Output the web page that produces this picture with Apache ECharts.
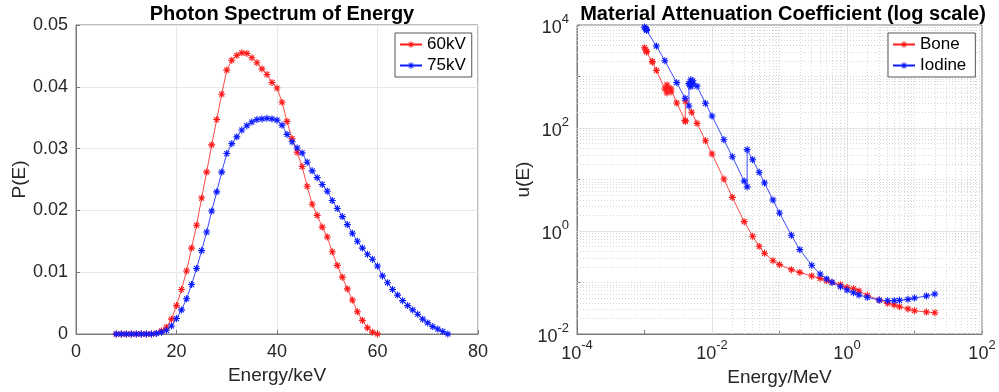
<!DOCTYPE html>
<html>
<head>
<meta charset="utf-8">
<script src="https://cdn.jsdelivr.net/npm/echarts@6/dist/echarts.min.js"></script>
<style>
html,body{margin:0;padding:0;background:#fff;}
#c{width:999px;height:392px;}
</style>
</head>
<body>
<div id="c"></div>
<script>
// ---------- Data: Photon spectrum ----------
const spec60E = [8,9,10,11,12,13,14,15,16,17,18,19,20,21,22,23,24,25,26,27,28,29,30,31,32,33,34,35,36,37,38,39,40,41,42,43,44,45,46,47,48,49,50,51,52,53,54,55,56,57,58,59,60];
const spec60P = [0,0,0,0,0,0,0,0,0.0001,0.0005,0.0011,0.0024,0.0046,0.0072,0.0102,0.0139,0.0176,0.0220,0.0262,0.0306,0.0347,0.0388,0.0427,0.0443,0.0451,0.0455,0.0454,0.0447,0.0439,0.0429,0.0420,0.0407,0.0398,0.0375,0.0344,0.0316,0.0294,0.0271,0.0239,0.0210,0.0192,0.0173,0.0157,0.0133,0.0111,0.0092,0.0073,0.0055,0.0036,0.0022,0.0010,0.0003,0.0000];
const spec75E = [8,9,10,11,12,13,14,15,16,17,18,19,20,21,22,23,24,25,26,27,28,29,30,31,32,33,34,35,36,37,38,39,40,41,42,43,44,45,46,47,48,49,50,51,52,53,54,55,56,57,58,59,60,61,62,63,64,65,66,67,68,69,70,71,72,73,74];
const spec75P = [0,0,0,0,0,0,0,0,0.0001,0.0003,0.0006,0.0013,0.0025,0.0039,0.0057,0.0080,0.0106,0.0135,0.0165,0.0199,0.0230,0.0262,0.0292,0.0308,0.0319,0.0330,0.0337,0.0343,0.0347,0.0348,0.0349,0.0348,0.0346,0.0338,0.0323,0.0311,0.0301,0.0293,0.0278,0.0264,0.0253,0.0242,0.0231,0.0216,0.0203,0.0190,0.0177,0.0163,0.0150,0.0139,0.0129,0.0121,0.0110,0.0094,0.0083,0.0072,0.0063,0.0054,0.0046,0.0039,0.0032,0.0024,0.0018,0.0012,0.0008,0.0004,0.0000];

// ---------- Data: attenuation coefficients ----------
const boneE = [0.001,0.0010354,0.0010721,0.0010721,0.001305,0.001305,0.0015,0.002,0.0021455,0.0021455,0.002303,0.002472,0.002472,0.003,0.004,0.0040381,0.0040381,0.005,0.006,0.008,0.01,0.015,0.02,0.03,0.04,0.05,0.06,0.08,0.1,0.15,0.2,0.3,0.4,0.5,0.6,0.8,1,1.25,1.5,2,3,4,5,6,8,10,15,20];
const boneU = [3625,3300,3000,3080,1915,1960,1318,572,479,684,598,500,572,306,139,135,334,202,123,56.6,31.3,10.2,4.5,1.52,0.789,0.505,0.369,0.265,0.222,0.177,0.157,0.134,0.120,0.108,0.101,0.0906,0.0805,0.0758,0.0684,0.0564,0.0457,0.0394,0.0366,0.0339,0.0306,0.0283,0.0267,0.0259];
const iodE = [0.001,0.0010354,0.0010721,0.0010721,0.0015,0.002,0.003,0.004,0.0045571,0.0045571,0.0047023,0.0048521,0.0048521,0.005,0.005188,0.005188,0.006,0.008,0.01,0.015,0.02,0.03,0.0331694,0.0331694,0.04,0.05,0.06,0.08,0.1,0.15,0.2,0.3,0.4,0.5,0.6,0.8,1,1.25,1.5,2,3,4,5,6,8,10,15,20];
const iodU = [9096,8465,7863,8198,3908,2028,759,378,268,736,688,637,863,794,720,827,650,302,171,59.3,27.7,9.3,7.2,38,24.2,13.8,8.56,4.0,2.24,0.826,0.434,0.216,0.146,0.117,0.101,0.0828,0.0714,0.0634,0.0572,0.0516,0.0457,0.0443,0.0443,0.0451,0.0471,0.050,0.0547,0.0598];

// ---------- Tick labels / names ----------
const titles = ['Photon Spectrum of Energy', 'Material Attenuation Coefficient (log scale)'];
const specTicksX = [0,20,40,60,80];
const specTicksY = [0,0.01,0.02,0.03,0.04,0.05];
const legendLeft = ['60kV','75kV'];
const legendRight = ['Bone','Iodine'];

const FONT = 'Liberation Sans, Arial, Helvetica, sans-serif';
const TXT = '#262626';
const AX = '#7a7a7a';
const STAR = 'path://M42 0h16v100h-16zM0 42h100v16h-100zM9 20L20 9L91 80L80 91zM80 9L91 20L20 91L9 80z';

const zip = (a, b) => a.map((v, i) => [v, b[i]]);

function logLabel(v) {
  const e = Math.round(Math.log10(v));
  if (e % 2 !== 0) return '';
  return '{b|10}{s|' + e + '}';
}
const logRich = {
  b: {fontSize: 18, fontFamily: FONT, color: TXT, verticalAlign: 'bottom', lineHeight: 24},
  s: {fontSize: 13, fontFamily: FONT, color: TXT, verticalAlign: 'top', lineHeight: 24}
};

// log grid lines (major solid at labelled decades, dotted minor)
function gridLines(axisKey, kFrom, kTo, majors) {
  const out = [];
  for (let k = kFrom; k <= kTo; k++) {
    const base = Math.pow(10, k);
    if (k !== kFrom) {
      const isMajor = majors.indexOf(k) >= 0;
      out.push({[axisKey]: base, lineStyle: isMajor ? {color: '#e3e3e3', type: 'solid', width: 1} : {color: '#d6d6d6', type: [1, 2], width: 1}});
    }
    if (k < kTo) {
      for (let m = 2; m <= 9; m++) {
        out.push({[axisKey]: m * base, lineStyle: {color: '#d6d6d6', type: [1, 2], width: 1}});
      }
    }
  }
  return out;
}
const vLines = gridLines('xAxis', -4, 2, [-2, 0]);
const hLines = gridLines('yAxis', -2, 4, [0, 2]);

const chart = echarts.init(document.getElementById('c'), null, {renderer: 'canvas'});

const lineSeries = (name, data, color, xi, yi) => ({
  name, type: 'line', data, xAxisIndex: xi, yAxisIndex: yi,
  symbol: STAR, symbolSize: 7, showAllSymbol: true,
  itemStyle: {color},
  lineStyle: {color, width: 0.8},
  emphasis: {disabled: true},
  animation: false, z: 3
});

const option = {
  animation: false,
  backgroundColor: '#fff',
  textStyle: {fontFamily: FONT},
  title: [
    {text: titles[0], left: 277, top: -1, textAlign: 'center', textStyle: {fontSize: 20, fontWeight: 'bold', color: '#000', fontFamily: FONT}},
    {text: titles[1], left: 778, top: -1, textAlign: 'center', textStyle: {fontSize: 20, fontWeight: 'bold', color: '#000', fontFamily: FONT}}
  ],
  grid: [
    {left: 76, top: 25, width: 402, height: 309, show: true, borderColor: AX, borderWidth: 1, backgroundColor: 'transparent'},
    {left: 577, top: 25, width: 405, height: 309, show: true, borderColor: AX, borderWidth: 1, backgroundColor: 'transparent'}
  ],
  legend: [
    {data: legendLeft, left: 395, top: 33, orient: 'vertical', padding: [3, 6, 3, 4], itemGap: 4, itemWidth: 22, itemHeight: 8,
     borderColor: '#555', borderWidth: 1, backgroundColor: '#fff', textStyle: {fontSize: 17, color: '#000', fontFamily: FONT}, selectedMode: false},
    {data: legendRight, left: 888, top: 33, orient: 'vertical', padding: [3, 9, 3, 4], itemGap: 4, itemWidth: 22, itemHeight: 8,
     borderColor: '#555', borderWidth: 1, backgroundColor: '#fff', textStyle: {fontSize: 17, color: '#000', fontFamily: FONT}, selectedMode: false}
  ],
  xAxis: [
    {type: 'value', gridIndex: 0, min: specTicksX[0], max: specTicksX[specTicksX.length - 1], interval: 20,
     name: 'Energy/keV', nameLocation: 'middle', nameGap: 32, nameTextStyle: {fontSize: 19, color: TXT, fontFamily: FONT},
     axisLine: {show: true, lineStyle: {color: AX}}, axisTick: {show: true, inside: true, length: 4, lineStyle: {color: AX}},
     axisLabel: {fontSize: 18, color: TXT, margin: 9, fontFamily: FONT},
     splitLine: {show: true, lineStyle: {color: '#e8e8e8'}}},
    {type: 'log', logBase: 10, gridIndex: 1, min: 1e-4, max: 1e2,
     name: 'Energy/MeV', nameLocation: 'middle', nameGap: 32, nameTextStyle: {fontSize: 19, color: TXT, fontFamily: FONT},
     axisLine: {show: true, lineStyle: {color: AX}}, axisTick: {show: true, inside: true, length: 4, lineStyle: {color: AX}},
     axisLabel: {formatter: logLabel, rich: logRich, margin: 5, showMinLabel: true, showMaxLabel: true},
     splitLine: {show: false}}
  ],
  yAxis: [
    {type: 'value', gridIndex: 0, min: specTicksY[0], max: specTicksY[specTicksY.length - 1], interval: 0.01,
     name: 'P(E)', nameLocation: 'middle', nameGap: 45, nameTextStyle: {fontSize: 19, color: TXT, fontFamily: FONT},
     axisLine: {show: true, lineStyle: {color: AX}}, axisTick: {show: true, inside: true, length: 4, lineStyle: {color: AX}},
     axisLabel: {fontSize: 18, color: TXT, margin: 8, fontFamily: FONT, formatter: v => v === 0 ? '0' : v.toFixed(2)},
     splitLine: {show: true, lineStyle: {color: '#e8e8e8'}}},
    {type: 'log', logBase: 10, gridIndex: 1, min: 1e-2, max: 1e4,
     name: 'u(E)', nameLocation: 'middle', nameGap: 44, nameTextStyle: {fontSize: 19, color: TXT, fontFamily: FONT},
     axisLine: {show: true, lineStyle: {color: AX}}, axisTick: {show: true, inside: true, length: 4, lineStyle: {color: AX}},
     axisLabel: {formatter: logLabel, rich: logRich, margin: 8, showMinLabel: true, showMaxLabel: true},
     splitLine: {show: false}}
  ],
  series: [
    {name: '_grid', type: 'line', xAxisIndex: 1, yAxisIndex: 1, data: zip(boneE, boneU), showSymbol: false, symbol: 'none',
     lineStyle: {opacity: 0}, silent: true, z: 1, animation: false,
     markLine: {silent: true, z: 1, symbol: ['none', 'none'], label: {show: false}, animation: false,
                emphasis: {disabled: true}, data: vLines.concat(hLines)}},
    lineSeries('60kV', zip(spec60E, spec60P), '#ff1a1a', 0, 0),
    lineSeries('75kV', zip(spec75E, spec75P), '#0a1aff', 0, 0),
    lineSeries('Bone', zip(boneE, boneU), '#ff1a1a', 1, 1),
    lineSeries('Iodine', zip(iodE, iodU), '#0a1aff', 1, 1)
  ]
};
chart.setOption(option);
</script>
</body>
</html>
